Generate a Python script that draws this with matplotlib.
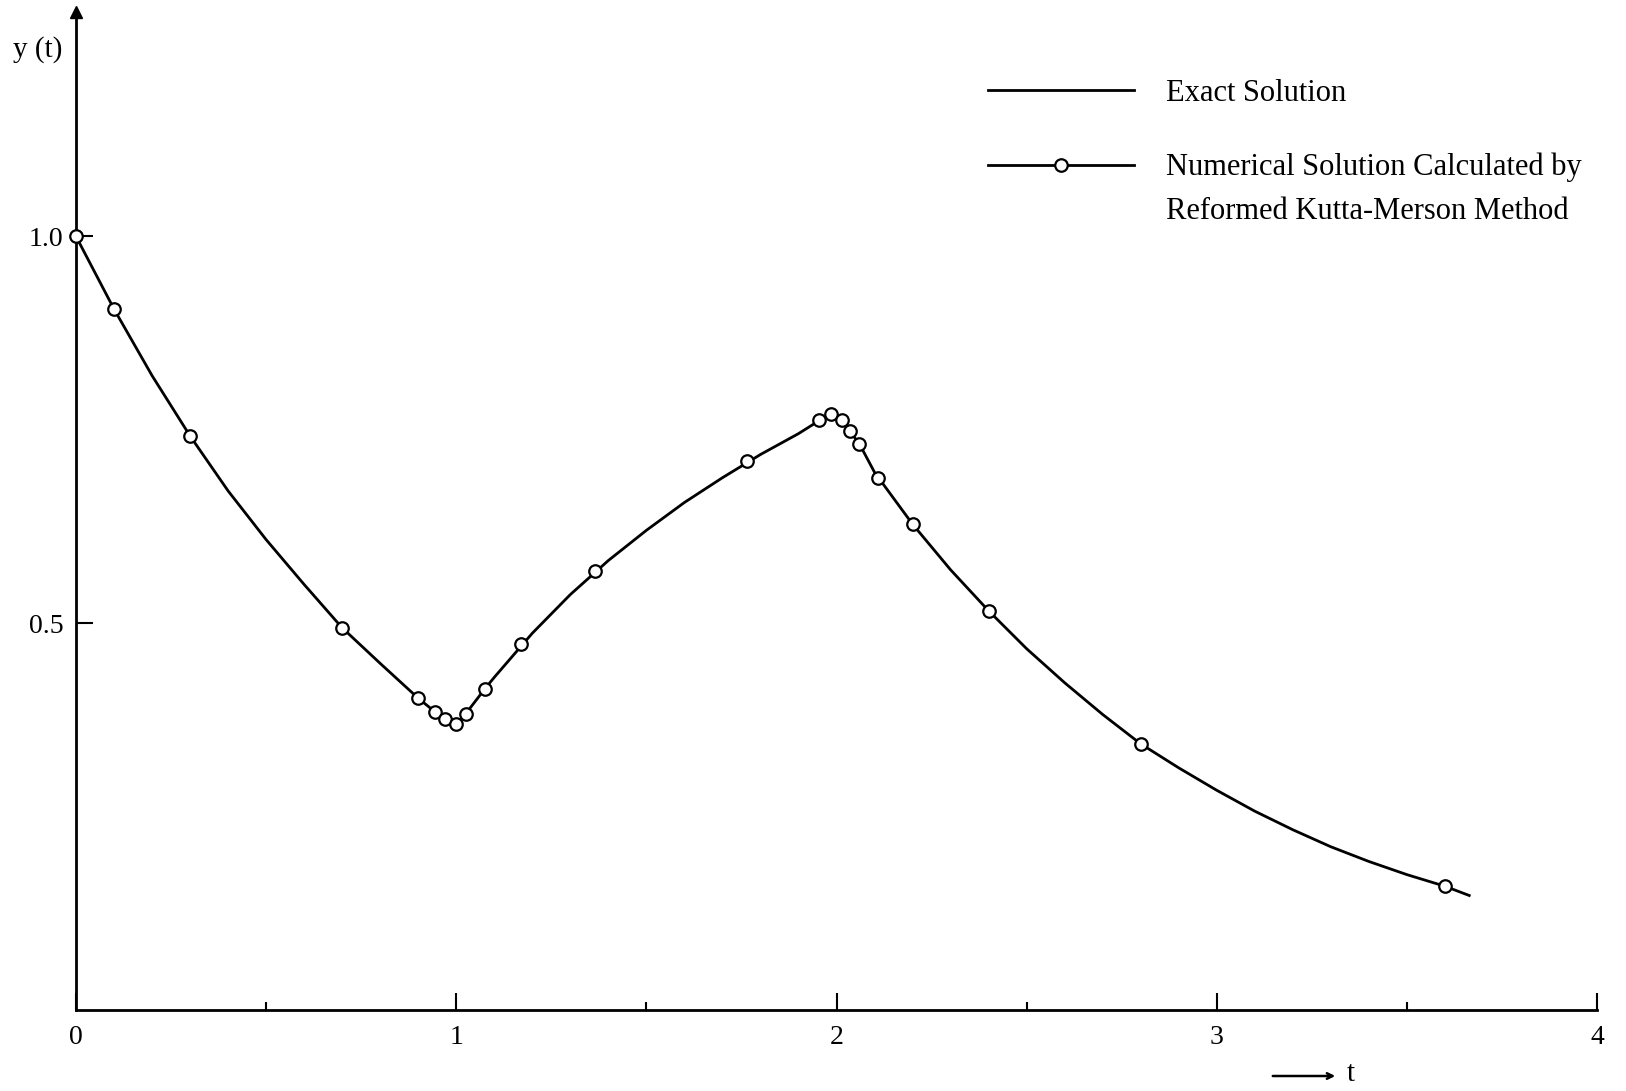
import matplotlib
matplotlib.use('Agg')
import matplotlib.pyplot as plt
from matplotlib.lines import Line2D

plt.rcParams['font.family'] = ['Liberation Serif', 'DejaVu Serif']

# exact solution
exact_t = [0.0, 0.1, 0.2, 0.3, 0.4, 0.5, 0.6, 0.7, 0.8, 0.9, 0.945, 0.97, 1.0,
           1.025, 1.075, 1.1, 1.2, 1.3, 1.4, 1.5, 1.6, 1.7, 1.8, 1.9, 1.955,
           1.985, 2.015, 2.035, 2.06, 2.1, 2.2, 2.3, 2.4, 2.5, 2.6, 2.7, 2.8,
           2.9, 3.0, 3.1, 3.2, 3.3, 3.4, 3.5, 3.6, 3.664]
exact_y = [1.000, 0.906, 0.820, 0.742, 0.671, 0.608, 0.550, 0.494, 0.448, 0.403,
           0.385, 0.376, 0.370, 0.383, 0.415, 0.430, 0.487, 0.537, 0.581, 0.620,
           0.656, 0.688, 0.718, 0.745, 0.762, 0.770, 0.763, 0.748, 0.732, 0.695,
           0.628, 0.569, 0.516, 0.467, 0.423, 0.382, 0.344, 0.313, 0.284, 0.257,
           0.233, 0.211, 0.192, 0.175, 0.160, 0.148]

# numerical solution (Reformed Kutta-Merson), step points
num_t = [0.0, 0.1, 0.3, 0.7, 0.9, 0.945, 0.97, 1.0, 1.025, 1.075, 1.17, 1.365,
         1.765, 1.955, 1.985, 2.015, 2.035, 2.06, 2.11, 2.2, 2.4, 2.8, 3.6]
num_y = [1.000, 0.906, 0.742, 0.494, 0.403, 0.385, 0.376, 0.370, 0.383, 0.415,
         0.473, 0.568, 0.709, 0.762, 0.770, 0.763, 0.748, 0.732, 0.688, 0.628,
         0.516, 0.344, 0.160]

x_major = [0, 1, 2, 3, 4]
x_minor = [0.5, 1.5, 2.5, 3.5]
y_major = [0.5, 1.0]
y_labels = ['0.5', '1.0']
legend_labels = ['Exact Solution', 'Numerical Solution Calculated by',
                 'Reformed Kutta-Merson Method']

W, H = 1626, 1091
fig = plt.figure(figsize=(W / 100, H / 100), dpi=100)
ax = fig.add_axes([76 / W, 81 / H, (1597 - 76) / W, (1010 - 12) / H])

ax.plot(exact_t, exact_y, color='k', lw=2.0, zorder=2)
ax.plot(num_t, num_y, linestyle='none', marker='o', ms=9, mfc='white',
        mec='k', mew=1.6, zorder=3, clip_on=False)

ax.set_xlim(0, 4)
ax.set_ylim(0, 1.29)
for s in ['top', 'right']:
    ax.spines[s].set_visible(False)
for s in ['left', 'bottom']:
    ax.spines[s].set_linewidth(2.0)

ax.set_xticks(x_major)
ax.set_xticks(x_minor, minor=True)
ax.set_yticks(y_major)
ax.set_yticklabels(y_labels)
ax.tick_params(axis='both', which='major', direction='in', length=12,
               width=1.5, labelsize=20)
ax.tick_params(axis='x', which='major', pad=11)
ax.tick_params(axis='y', which='major', pad=9)
ax.tick_params(axis='x', which='minor', direction='in', length=6, width=1.5)

# arrow head on the y axis
ax.plot(0, 1, marker='^', color='k', ms=8, transform=ax.get_xaxis_transform(),
        clip_on=False)

# legend
handles = [Line2D([], [], color='k', lw=2.0),
           Line2D([], [], color='k', lw=2.0, marker='o', ms=9, mfc='white',
                  mec='k', mew=1.6)]
leg = ax.legend(handles, legend_labels[:2], loc='upper left',
                bbox_to_anchor=(988 / W, 1 - 79 / H), bbox_transform=fig.transFigure,
                frameon=False, fontsize=22, handlelength=4.78, handletextpad=1.05,
                labelspacing=1.47, borderpad=0, borderaxespad=0)
fig.canvas.draw()
bb = leg.get_texts()[1].get_window_extent()
yc = (bb.y0 + bb.y1) / 2
fig.text(bb.x0 / W, (yc - 44) / H, legend_labels[2], fontsize=22,
         ha='left', va='center')

# axis labels
fig.text(38 / W, 1 - 50 / H, 'y (t)', fontsize=21, ha='center', va='center')
ax.annotate('', xy=(1338 / W, 1 - 1076 / H), xytext=(1270 / W, 1 - 1076 / H),
            xycoords='figure fraction', textcoords='figure fraction',
            arrowprops=dict(arrowstyle='->', lw=1.8, color='k'))
fig.text(1347 / W, 1 - 1074 / H, 't', fontsize=21, ha='left', va='center')

fig.savefig('out.png', dpi=100)
